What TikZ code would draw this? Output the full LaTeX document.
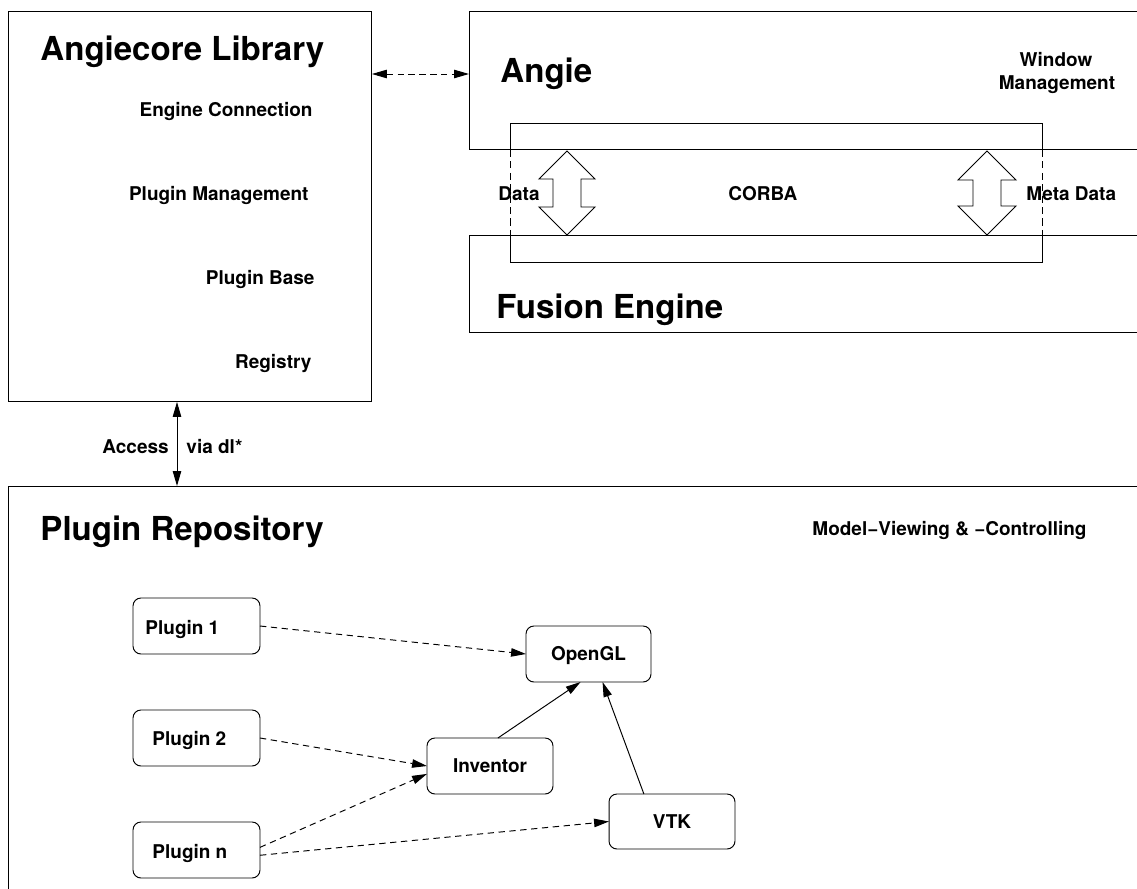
\documentclass[tikz,border=0pt]{standalone}
\usepackage{fontspec}
\setmainfont{TeX Gyre Heros}
\usetikzlibrary{arrows.meta}
\tikzset{
  area/.style={rectangle, anchor=north west, inner sep=0pt, outer sep=0pt},
  modbox/.style={draw, rectangle, rounded corners=4.5pt, inner sep=0pt, outer sep=0pt,
    font=\bfseries\fontsize{10.8}{13}\selectfont, text height=7.8pt, text depth=0pt},
  bigtext/.style={inner sep=0pt, font=\bfseries\fontsize{18.8}{22}\selectfont},
  smalltext/.style={inner sep=0pt, font=\bfseries\fontsize{10.8}{12.5}\selectfont},
  uses/.style={-{Triangle[length=8.5pt, width=4.8pt]}},
  dep/.style={uses, dash pattern=on 3.6pt off 2.6pt},
  both/.style={{Triangle[length=8.5pt, width=4.8pt]}-{Triangle[length=8.5pt, width=4.8pt]}},
  corbadash/.style={dash pattern=on 4pt off 2.5pt}
}
\begin{document}
\begin{tikzpicture}[x=0.02cm, y=-0.02cm, line width=0.55pt]
\useasboundingbox (0,0) rectangle (1137,889);

% main building blocks (Angie, engine and repository run off the right/bottom edge)
\node[area, draw, minimum width=7.28cm, minimum height=7.82cm] (lib) at (8,11) {};
\node[area, minimum width=13.36cm, minimum height=2.78cm] (angie) at (469,11) {};
\node[area, minimum width=13.36cm, minimum height=1.94cm] (fusion) at (469,235) {};
\node[area, minimum width=22.58cm, minimum height=8.06cm] (repo) at (8,486) {};
\node[area, minimum width=10.66cm, minimum height=2.8cm] (corba) at (510,123) {};
\draw (angie.north east) -- (angie.north west) -- (angie.south west) -- (angie.south east);
\draw (fusion.north east) -- (fusion.north west) -- (fusion.south west) -- (fusion.south east);
\draw (repo.north east) -- (repo.north west) -- (repo.south west);

% CORBA layer: solid inside Angie and the engine, dashed in between
\draw (corba.west |- angie.south) -- (corba.north west) -- (corba.north east) -- (corba.east |- angie.south);
\draw[corbadash] (corba.west |- angie.south) -- (corba.west |- fusion.north);
\draw[corbadash] (corba.east |- angie.south) -- (corba.east |- fusion.north);
\draw (corba.west |- fusion.north) -- (corba.south west) -- (corba.south east) -- (corba.east |- fusion.north);

% block data arrows through CORBA
\draw[fill=white] (567,151) -- (595,179) -- (581,179) -- (581,207) -- (595,207) -- (567,235)
  -- (539,207) -- (553,207) -- (553,179) -- (539,179) -- cycle;
\draw[fill=white] (987,151) -- (1016,180) -- (1001,180) -- (1001,206) -- (1016,206) -- (987,235)
  -- (958,206) -- (973,206) -- (973,180) -- (958,180) -- cycle;

% titles
\node[bigtext, anchor=base west] (libT) at (40,60) {Angiecore Library};
\node[bigtext, anchor=base west] (angieT) at (500,82) {Angie};
\node[bigtext, anchor=base west] (fusionT) at (496,318) {Fusion Engine};
\node[bigtext, anchor=base west] (repoT) at (40,540) {Plugin Repository};

% library contents
\node[smalltext, anchor=base east] (ec) at (313,116) {Engine Connection};
\node[smalltext, anchor=base east] (pm) at (309,200) {Plugin Management};
\node[smalltext, anchor=base east] (pb) at (315,284) {Plugin Base};
\node[smalltext, anchor=base east] (reg) at (312,368) {Registry};

% labels of the upper right part
\node[smalltext, anchor=base] (wm1) at (1056,67) {Window};
\node[smalltext, anchor=base] (wm2) at (1057,90) {Management};
\node[smalltext, anchor=base west] (dataL) at (498,200) {Data};
\node[smalltext, anchor=base west] (corbaL) at (728,200) {CORBA};
\node[smalltext, anchor=base west] (metaL) at (1026,200) {Meta Data};

% library <-> Angie
\coordinate (la) at (0,74);
\draw[both, dash pattern=on 3.6pt off 2.6pt] (lib.east |- la) -- (angie.west |- la);

% library <-> repository
\coordinate (ax) at (177,0);
\draw[both] (ax |- lib.south) -- (ax |- repo.north);
\node[smalltext, anchor=base west] (acc) at (102,453) {Access};
\node[smalltext, anchor=base west] (via) at (186,453) {via dl*};

\node[smalltext, anchor=base west] (mvc) at (812,535) {Model{\char"2212}Viewing \& {\char"2212}Controlling};

% plugins and toolkits
\node[modbox, minimum width=2.54cm, minimum height=1.12cm] (p1) at (196.5,626) {};
\node[modbox, minimum width=2.54cm, minimum height=1.12cm] (p2) at (196.5,738) {};
\node[modbox, minimum width=2.54cm, minimum height=1.12cm] (pn) at (196.5,850) {};
\node[smalltext, anchor=base west] (p1T) at (145,634) {Plugin 1};
\node[smalltext, anchor=base west] (p2T) at (152,745) {Plugin 2};
\node[smalltext, anchor=base west] (pnT) at (152,858) {Plugin n};

\node[modbox, minimum width=2.5cm, minimum height=1.12cm] (ogl) at (588.5,654) {OpenGL};
\node[modbox, minimum width=2.52cm, minimum height=1.12cm] (inv) at (490,766) {Inventor};
\node[modbox, minimum width=2.52cm, minimum height=1.1cm] (vtk) at (672,821.5) {VTK};

\draw[dep] (p1.east) -- (ogl.west);
\draw[dep] (p2.east) -- (inv.west);
\draw[dep] ([yshift=1.5pt]pn.east) -- ([yshift=-4.5pt]inv.west);
\draw[dep] ([yshift=-3pt]pn.east) -- (vtk.west);
\draw[uses] ([xshift=4.5pt]inv.north) -- ([xshift=-4.5pt]ogl.south);
\draw[uses] ([xshift=-16pt]vtk.north) -- ([xshift=8pt]ogl.south);
\end{tikzpicture}
\end{document}
